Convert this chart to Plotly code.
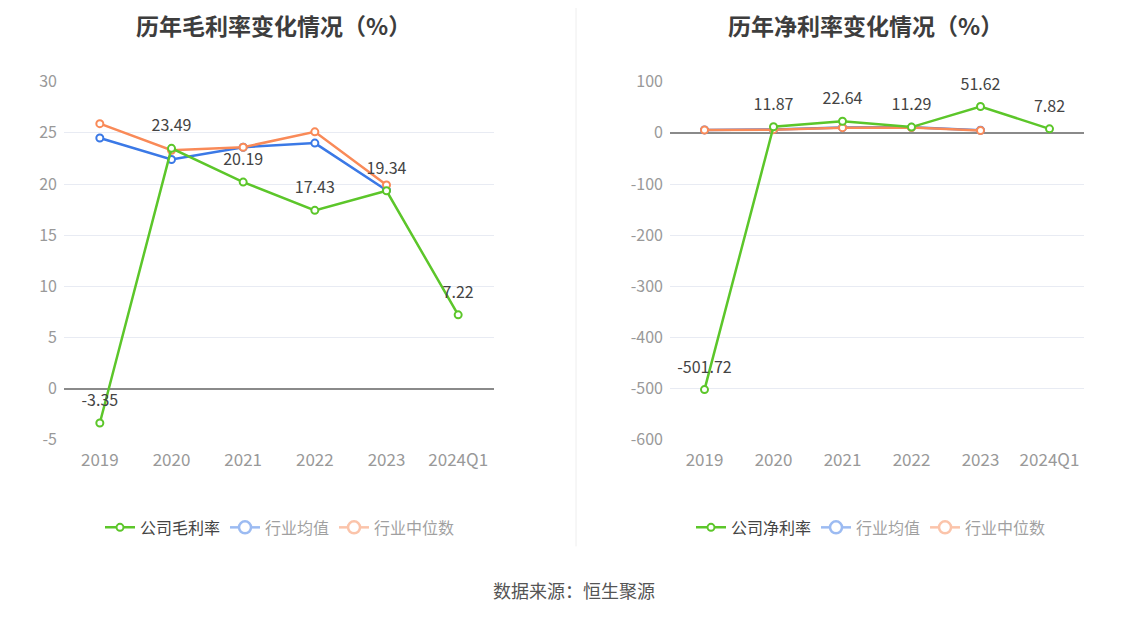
import plotly.graph_objects as go
from plotly.subplots import make_subplots

# 数据
years = ["2019", "2020", "2021", "2022", "2023", "2024Q1"]
gross_company = [-3.35, 23.49, 20.19, 17.43, 19.34, 7.22]
gross_avg = [24.5, 22.4, 23.6, 24.0, 19.4]
gross_median = [25.9, 23.3, 23.6, 25.1, 19.9]
gross_ticks = [-5, 0, 5, 10, 15, 20, 25, 30]

net_company = [-501.72, 11.87, 22.64, 11.29, 51.62, 7.82]
net_avg = [5.8, 6.6, 10.6, 10.8, 5.2]
net_median = [5.5, 6.3, 10.2, 10.4, 4.6]
net_ticks = [-600, -500, -400, -300, -200, -100, 0, 100]

GREEN = "#5cc62a"
BLUE = "#3b79e6"
ORANGE = "#f98a58"
FONT = "Noto Sans CJK SC"

fig = make_subplots(rows=1, cols=2)


def add_series(col, company, avg, median, company_name, legend):
    fig.add_trace(go.Scatter(
        x=years[:len(avg)], y=avg, mode="lines+markers", name="行业均值",
        line=dict(color=BLUE, width=2.5),
        marker=dict(symbol="circle", size=7, color="white", line=dict(color=BLUE, width=2)),
        showlegend=False, hoverinfo="y"), row=1, col=col)
    fig.add_trace(go.Scatter(
        x=years[:len(median)], y=median, mode="lines+markers", name="行业中位数",
        line=dict(color=ORANGE, width=2.5),
        marker=dict(symbol="circle", size=7, color="white", line=dict(color=ORANGE, width=2)),
        showlegend=False, hoverinfo="y"), row=1, col=col)
    fig.add_trace(go.Scatter(
        x=years, y=company, mode="lines+markers", name=company_name,
        line=dict(color=GREEN, width=2.5),
        marker=dict(symbol="circle", size=7, color="white", line=dict(color=GREEN, width=2)),
        legend=legend, hoverinfo="y"), row=1, col=col)
    # 数值标签（透明大点把文字往上推）
    fig.add_trace(go.Scatter(
        x=years, y=company, mode="markers+text", cliponaxis=False,
        text=[f"{v:.2f}" for v in company], textposition="top center",
        textfont=dict(size=16, color="#444444", family=FONT),
        marker=dict(size=19, color="rgba(0,0,0,0)"),
        showlegend=False, hoverinfo="skip"), row=1, col=col)
    # 图例（行业数据以淡色显示）
    for name, color, vals in (("行业均值", BLUE, avg), ("行业中位数", ORANGE, median)):
        fig.add_trace(go.Scatter(
            x=years[:len(vals)], y=vals, mode="lines+markers", name=name,
            line=dict(color=color, width=2.5),
            marker=dict(symbol="circle", size=12, color="white", line=dict(color=color, width=2.5)),
            visible="legendonly", legend=legend), row=1, col=col)


add_series(1, gross_company, gross_avg, gross_median, "公司毛利率", "legend")
add_series(2, net_company, net_avg, net_median, "公司净利率", "legend2")


# 页面坐标 -> paper 坐标
def px(x):
    return (x - 8) / 1148


def py(y):
    return 1 - (y - 20) / 598


ydom = [py(441), py(81)]
axis_common = dict(showgrid=True, gridcolor="#e8ebf3", gridwidth=1,
                   zeroline=True, zerolinecolor="#8a8a8a", zerolinewidth=1.5,
                   tickfont=dict(size=16, color="#999999", family=FONT),
                   showline=False, ticks="", ticklabelstandoff=6, domain=ydom)
fig.update_yaxes(range=[-5, 30], tickvals=gross_ticks, ticktext=[str(t) for t in gross_ticks],
                 row=1, col=1, **axis_common)
fig.update_yaxes(range=[-600, 100], tickvals=net_ticks, ticktext=[str(t) for t in net_ticks],
                 row=1, col=2, **axis_common)

xcommon = dict(type="category", range=[-0.5, 5.5], showgrid=False, showline=False,
               zeroline=False, ticks="", ticklabelstandoff=8,
               tickfont=dict(size=17, color="#999999", family=FONT))
fig.update_xaxes(domain=[px(64), px(494)], row=1, col=1, **xcommon)
fig.update_xaxes(domain=[px(670), px(1084)], row=1, col=2, **xcommon)

legend_common = dict(orientation="h", xanchor="center", yanchor="middle",
                     font=dict(size=16, color="#444444", family=FONT),
                     itemclick=False, itemdoubleclick=False, bgcolor="rgba(0,0,0,0)")
title_font = dict(size=23, color="#3d3d3d", family=FONT)
fig.update_layout(
    width=1148, height=619,
    margin=dict(l=0, r=0, t=0, b=0),
    plot_bgcolor="white", paper_bgcolor="white",
    font=dict(family=FONT),
    legend=dict(x=px(280), y=py(529), **legend_common),
    legend2=dict(x=px(871), y=py(529), **legend_common),
    annotations=[
        dict(text="<b>历年毛利率变化情况（%）</b>", x=px(273), y=py(24),
             xanchor="center", yanchor="middle",
             xref="paper", yref="paper", showarrow=False, font=title_font),
        dict(text="<b>历年净利率变化情况（%）</b>", x=px(865), y=py(24),
             xanchor="center", yanchor="middle",
             xref="paper", yref="paper", showarrow=False, font=title_font),
        dict(text="数据来源：恒生聚源", x=px(574), y=py(592),
             xanchor="center", yanchor="middle",
             xref="paper", yref="paper", showarrow=False,
             font=dict(size=18, color="#555555", family=FONT)),
    ],
    shapes=[dict(type="line", xref="paper", yref="paper",
                 x0=px(576), x1=px(576), y0=py(548), y1=1.05,
                 line=dict(color="#eeeeee", width=1))],
)

fig.write_html("out.html")
